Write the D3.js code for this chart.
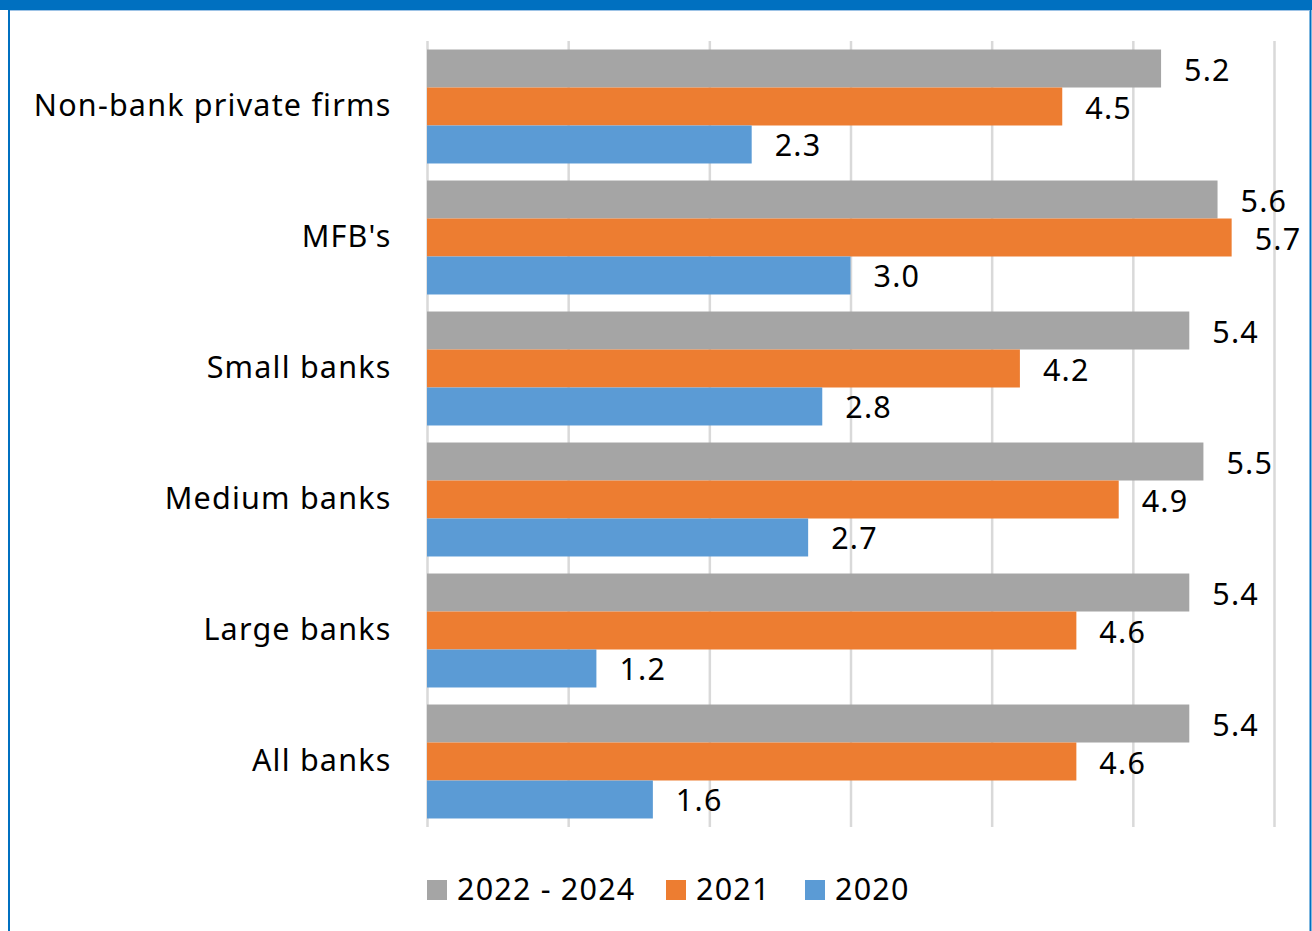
<!DOCTYPE html>
<html>
<head>
<meta charset="utf-8">
<script src="https://cdn.jsdelivr.net/npm/d3@7"></script>
<style>
  html, body { margin: 0; padding: 0; background: #fff; }
  svg { display: block; }
  text { font-family: "Noto Sans", "Open Sans", sans-serif; fill: #000; letter-spacing: 1.2px; }
</style>
</head>
<body>
<svg id="chart" width="1312" height="931"></svg>
<script>
// Categories, top to bottom
const categories = ["Non-bank private firms", "MFB's", "Small banks", "Medium banks", "Large banks", "All banks"];
// Series, in the order they are stacked inside each group
const seriesNames = ["2022 - 2024", "2021", "2020"];
const seriesColors = ["#A5A5A5", "#ED7D31", "#5B9BD5"];
const values2022to2024 = [5.2, 5.6, 5.4, 5.5, 5.4, 5.4];
const values2021 = [4.5, 5.7, 4.2, 4.9, 4.6, 4.6];
const values2020 = [2.3, 3.0, 2.8, 2.7, 1.2, 1.6];
const xTicks = [0, 1, 2, 3, 4, 5, 6];

const seriesValues = [values2022to2024, values2021, values2020];

const svg = d3.select("#chart");
const W = 1312, H = 931;
const FONT = 30.5;

// Frame: thick blue band on top, thin blue sides
svg.append("rect").attr("x", 0).attr("y", 0).attr("width", W).attr("height", 10).attr("fill", "#0070C0");
svg.append("line").attr("x1", 9).attr("x2", 9).attr("y1", 0).attr("y2", H)
  .attr("stroke", "#0070C0").attr("stroke-width", 2);
svg.append("line").attr("x1", 1310.5).attr("x2", 1310.5).attr("y1", 0).attr("y2", H)
  .attr("stroke", "#0070C0").attr("stroke-width", 2);
svg.append("line").attr("x1", 10).attr("x2", 1309.5).attr("y1", 10.5).attr("y2", 10.5)
  .attr("stroke", "#9DC3E6").attr("stroke-width", 1);

const plot = { left: 427, right: 1274, top: 41, bottom: 827 };

const x = d3.scaleLinear().domain([0, 6]).range([plot.left, plot.right]);
const y = d3.scaleBand().domain(categories).range([plot.top, plot.bottom])
  .paddingInner(0.13).paddingOuter(0.065);
const ySub = d3.scaleBand().domain(seriesNames).range([0, y.bandwidth()]);

// Vertical gridlines
const grid = svg.append("g")
  .attr("transform", `translate(0,${plot.bottom})`)
  .call(d3.axisBottom(x).tickValues(xTicks).tickSize(-(plot.bottom - plot.top)).tickFormat(""));
grid.select(".domain").remove();
grid.selectAll(".tick line").attr("stroke", "#D9D9D9").attr("stroke-width", 2.5);

// Bars
const rows = [];
categories.forEach((c, i) => {
  seriesNames.forEach((s, j) => {
    rows.push({ cat: c, series: s, color: seriesColors[j], value: seriesValues[j][i] });
  });
});

const groups = svg.append("g");
groups.selectAll("rect.bar").data(rows).enter().append("rect")
  .attr("class", "bar")
  .attr("x", x(0))
  .attr("y", d => y(d.cat) + ySub(d.series))
  .attr("width", d => x(d.value) - x(0))
  .attr("height", ySub.bandwidth())
  .attr("fill", d => d.color);

// Value labels
const fmt = d3.format(".1f");
groups.selectAll("text.val").data(rows).enter().append("text")
  .attr("class", "val")
  .attr("x", d => x(d.value) + 23)
  .attr("y", d => y(d.cat) + ySub(d.series) + ySub.bandwidth() / 2 + 12)
  .attr("font-size", FONT)
  .text(d => fmt(d.value));

// Category labels
svg.append("g").selectAll("text").data(categories).enter().append("text")
  .attr("x", 391.5)
  .attr("y", d => y(d) + y.bandwidth() / 2 + 9.5)
  .attr("text-anchor", "end")
  .attr("font-size", FONT)
  .text(d => d);

// Legend
const legendX = [427, 666, 805];
const legend = svg.append("g");
seriesNames.forEach((s, j) => {
  legend.append("rect").attr("x", legendX[j]).attr("y", 880).attr("width", 20).attr("height", 20)
    .attr("fill", seriesColors[j]);
  legend.append("text").attr("x", legendX[j] + 30).attr("y", 900)
    .attr("font-size", FONT).text(s);
});
</script>
</body>
</html>
